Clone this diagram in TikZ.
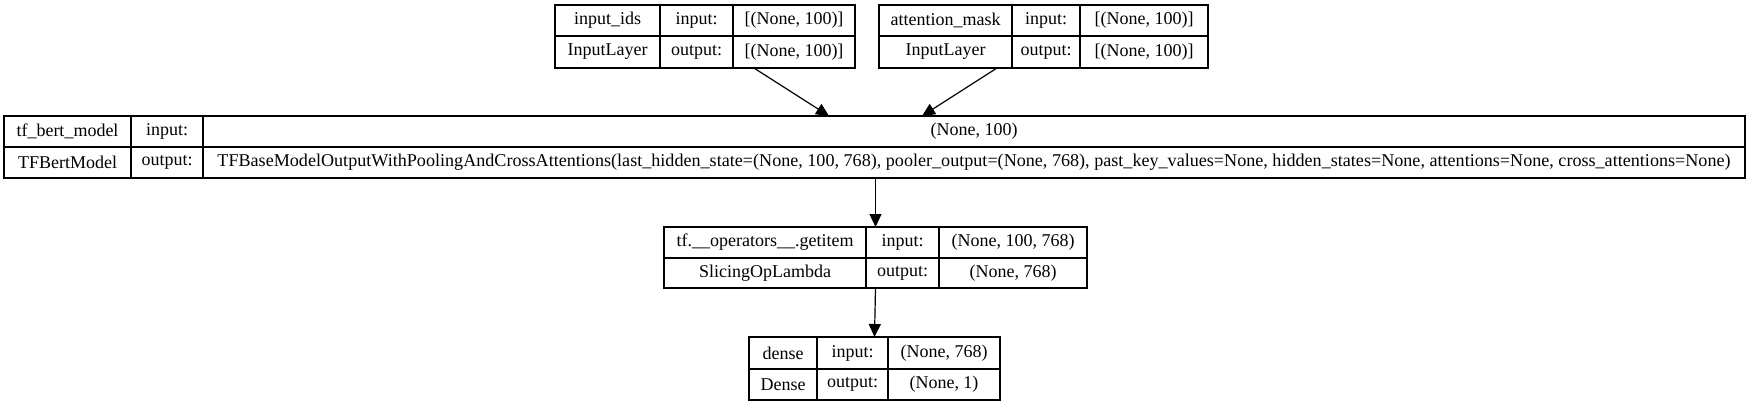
\documentclass[tikz,border=0pt]{standalone}
\usepackage{fontspec}
\usepackage{graphicx}
\setmainfont{Liberation Serif}
\usetikzlibrary{arrows.meta,calc}
\tikzset{
  cellbox/.style={draw=black, line width=1.2pt, inner sep=0pt, outer sep=0pt, font=\fontsize{18}{21}\selectfont, anchor=center},
  framebox/.style={inner sep=0pt, outer sep=0pt, anchor=center},
  link/.style={draw=black, line width=1.2pt, -{Triangle[length=13pt,width=12pt]}},
}
\newcommand\kcell[6]{%
  \pgfmathsetmacro\kw{#4-#2}\pgfmathsetmacro\kh{#5-#3}%
  \node[cellbox, minimum width=\kw pt, minimum height=\kh pt] (#1) at ({(#2+#4)/2},{(#3+#5)/2}) {\makebox[0pt]{#6}};}
\newcommand\kframe[5]{%
  \pgfmathsetmacro\kw{#4-#2}\pgfmathsetmacro\kh{#5-#3}%
  \node[framebox, minimum width=\kw pt, minimum height=\kh pt] (#1) at ({(#2+#4)/2},{(#3+#5)/2}) {};}
\begin{document}
\begin{tikzpicture}[x=1pt,y=-1pt]
\useasboundingbox (0,0) rectangle (1751,405);
% input_ids
\kframe{ib}{555}{5}{855}{68}
\kcell{ib-n}{555}{5}{660}{36}{input\_ids}
\kcell{ib-i}{660}{5}{733}{36}{input:}
\kcell{ib-iv}{733}{5}{855}{36}{[(None, 100)]}
\kcell{ib-c}{555}{36}{660}{68}{InputLayer}
\kcell{ib-o}{660}{36}{733}{68}{output:}
\kcell{ib-ov}{733}{36}{855}{68}{[(None, 100)]}
% attention_mask
\kframe{am}{879}{5}{1208}{68}
\kcell{am-n}{879}{5}{1012}{36}{attention\_mask}
\kcell{am-i}{1012}{5}{1080}{36}{input:}
\kcell{am-iv}{1080}{5}{1208}{36}{[(None, 100)]}
\kcell{am-c}{879}{36}{1012}{68}{InputLayer}
\kcell{am-o}{1012}{36}{1080}{68}{output:}
\kcell{am-ov}{1080}{36}{1208}{68}{[(None, 100)]}
% tf_bert_model
\kframe{tb}{4}{116}{1745}{178}
\kcell{tb-n}{4}{116}{131}{147}{tf\_bert\_model}
\kcell{tb-i}{131}{116}{203}{147}{input:}
\kcell{tb-iv}{203}{116}{1745}{147}{(None, 100)}
\kcell{tb-c}{4}{147}{131}{178}{TFBertModel}
\kcell{tb-o}{131}{147}{203}{178}{output:}
\kcell{tb-ov}{203}{147}{1745}{178}{\resizebox{1513pt}{\height}{TFBaseModelOutputWithPoolingAndCrossAttentions(last\_hidden\_state=(None, 100, 768), pooler\_output=(None, 768), past\_key\_values=None, hidden\_states=None, attentions=None, cross\_attentions=None)}}
% getitem
\kframe{gi}{664}{227}{1087}{288}
\kcell{gi-n}{664}{227}{866}{258}{tf.\_\_operators\_\_.getitem}
\kcell{gi-i}{866}{227}{939}{258}{input:}
\kcell{gi-iv}{939}{227}{1087}{258}{(None, 100, 768)}
\kcell{gi-c}{664}{258}{866}{288}{SlicingOpLambda}
\kcell{gi-o}{866}{258}{939}{288}{output:}
\kcell{gi-ov}{939}{258}{1087}{288}{(None, 768)}
% dense
\kframe{dn}{749}{337}{1000}{400}
\kcell{dn-n}{749}{337}{817}{369}{dense}
\kcell{dn-i}{817}{337}{888}{369}{input:}
\kcell{dn-iv}{888}{337}{1000}{369}{(None, 768)}
\kcell{dn-c}{749}{369}{817}{400}{Dense}
\kcell{dn-o}{817}{369}{888}{400}{output:}
\kcell{dn-ov}{888}{369}{1000}{400}{(None, 1)}
% connectors
\draw[link] ($(ib.south west)!0.663!(ib.south east)$) -- ($(tb.north west)!0.4739!(tb.north east)$);
\draw[link] ($(am.south west)!0.3587!(am.south east)$) -- ($(tb.north west)!0.5273!(tb.north east)$);
\draw[link] (tb.south -| gi.north) -- (gi.north);
\draw[link] (gi.south) -- (dn.north);
\end{tikzpicture}
\end{document}
